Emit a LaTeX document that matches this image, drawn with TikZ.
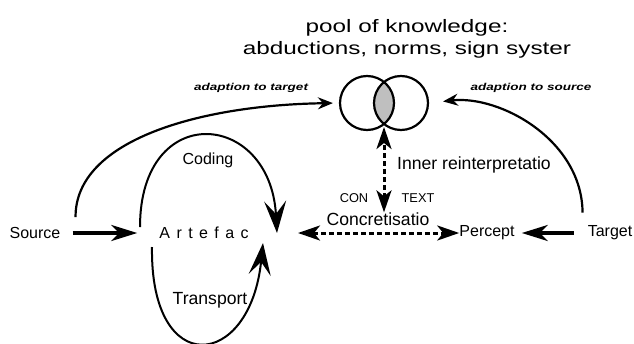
\documentclass[tikz,border=0pt]{standalone}
\usepackage{fontspec}
\setmainfont{Liberation Sans}
\newfontfamily\widefont[FakeStretch=1.35]{Liberation Sans}
\usetikzlibrary{arrows.meta}

\begin{document}
\begin{tikzpicture}[x=1pt,y=-1pt,
    txt/.style={inner sep=0pt,font=\fontsize{16}{18}\selectfont},
    bigtxt/.style={inner sep=0pt,font=\fontsize{17.6}{19}\selectfont},
    smalltxt/.style={inner sep=0pt,font=\fontsize{12.8}{14}\selectfont},
    adapttxt/.style={inner sep=0pt,font=\widefont\bfseries\itshape\fontsize{10}{12}\selectfont},
    ring/.style={circle,draw,line width=2.2pt,minimum size=54pt,inner sep=0pt},
    loop/.style={line width=2pt,-{Stealth[length=32pt,width=22pt,inset=13pt]}},
    flow/.style={line width=4pt,-{Stealth[length=26pt,width=16pt,inset=8pt]}},
    adapt/.style={line width=2.2pt,-{Stealth[length=15pt,width=12pt,inset=5pt]}},
    dasharr/.style={line width=3pt,dash pattern=on 5pt off 3pt,
      {Stealth[length=22pt,width=15pt,inset=6pt]}-{Stealth[length=22pt,width=15pt,inset=6pt]}}]
  \useasboundingbox (0,0) rectangle (634,343);

  \node[align=center,font=\widefont\fontsize{18}{22}\selectfont] (pool) at (407,39)
    {pool of knowledge:\\abductions, norms, sign syster};
  \node[adapttxt] (totarget) at (251,88) {adaption to target};
  \node[adapttxt] (tosource) at (531,88) {adaption to source};

  \begin{scope}
    \clip (367,103) circle (27);
    \fill[gray!50] (401,103) circle (27);
  \end{scope}
  \node[ring] (lring) at (367,103) {};
  \node[ring] (rring) at (401,103) {};
  \coordinate (lens) at (384,127);

  \node[txt] (source) at (35,233) {Source};
  \node[txt] (artefac) at (204,233) {\addfontfeature{LetterSpace=40}Artefac};
  \node[txt] (percept) at (487,233) {Percept};
  \node[txt] (target) at (610,233) {Target};
  \node[txt] (coding) at (208,160) {Coding};
  \node[bigtxt] (transport) at (210,300) {Transport};
  \node[bigtxt,anchor=west] (inner) at (397,165) {Inner reinterpretatio};
  \node[smalltxt] (con) at (354,198) {CON};
  \node[smalltxt] (ctext) at (418,198) {TEXT};
  \node[bigtxt] (concr) at (378,219) {Concretisatio};

  \coordinate (codein) at (277,233);
  \coordinate (transin) at (263,243);
  \coordinate (hub) at (298,233);

  \draw[flow,shorten <=12pt,shorten >=22pt] (source) -- (artefac);
  \draw[flow,shorten <=14pt,shorten >=7pt] (target) -- (percept);
  \draw[loop] (140,227) .. controls (140,100) and (270,110) .. (codein);
  \draw[loop] (152,247) .. controls (150,380) and (250,370) .. (transin);
  \draw[adapt,shorten >=6pt] ([shift={(15,-10)}]source.north east)
    .. controls (75,140) and (200,105) .. (lring.west);
  \draw[adapt,shorten >=14pt] ([shift={(-5,-13)}]target.north west)
    .. controls (582,140) and (500,95) .. (rring.east);
  \draw[dasharr] (hub) -- (percept);
  \draw[dasharr] (concr.north -| lens) -- (lens);
\end{tikzpicture}
\end{document}
